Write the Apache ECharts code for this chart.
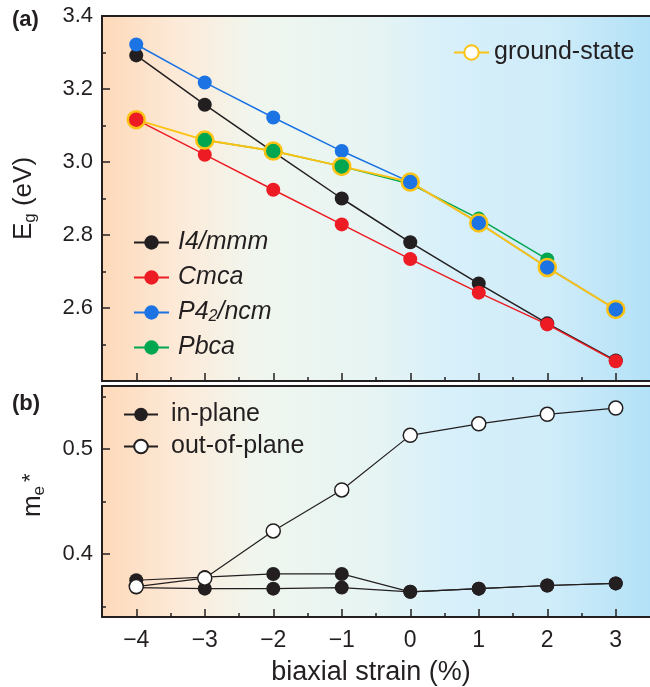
<!DOCTYPE html>
<html><head><meta charset="utf-8">
<script src="https://cdn.jsdelivr.net/npm/echarts@6/dist/echarts.min.js"></script>
<style>html,body{margin:0;padding:0;background:#fff}#c{width:650px;height:687px}</style>
</head><body><div id="c"></div>
<script>
// ---- data ----
const strain = [-4, -3, -2, -1, 0, 1, 2, 3];
const xTicks = [-4, -3, -2, -1, 0, 1, 2, 3];
const xMinorTicks = [-3.5, -2.5, -1.5, -0.5, 0.5, 1.5, 2.5];
const egI4mmm  = [3.292, 3.157, 3.028, 2.900, 2.780, 2.667, 2.558, 2.456];
const egCmca   = [3.116, 3.020, 2.924, 2.829, 2.734, 2.642, 2.555, 2.454];
const egP42ncm = [3.322, 3.218, 3.122, 3.030, 2.945, 2.833, 2.711, 2.596];
const egPbca   = [null, 3.060, 3.030, 2.988, 2.940, 2.845, 2.733, null];
const groundPhase = ['Cmca', 'Pbca', 'Pbca', 'Pbca', 'P42/ncm', 'P42/ncm', 'P42/ncm', 'P42/ncm'];
const meInPlaneA   = [0.375, 0.378, 0.381, 0.381, 0.364, 0.367, 0.370, 0.372];
const meInPlaneB   = [0.368, 0.367, 0.367, 0.368, 0.364, 0.367, 0.370, 0.372];
const meOutOfPlane = [0.369, 0.377, 0.422, 0.461, 0.513, 0.524, 0.533, 0.539];
const meTicks = [0.4, 0.5];
const meMinorTicks = [0.35, 0.45, 0.55];

// ---- style ----
const FONT = 'Liberation Sans, Arial, Helvetica, sans-serif';
const INK = '#231f20';
const YELLOW = '#fcc314';
const colors = {'I4/mmm': '#231f20', 'Cmca': '#ed1c24', 'P42/ncm': '#1b73e4', 'Pbca': '#00a650'};
const egByPhase = {'I4/mmm': egI4mmm, 'Cmca': egCmca, 'P42/ncm': egP42ncm, 'Pbca': egPbca};

function pairs(arr) { return strain.map((s, i) => arr[i] == null ? null : [s, arr[i]]).filter(d => d); }
function bg() {
  return new echarts.graphic.LinearGradient(0, 0, 1, 0, [
    {offset: 0, color: '#fdd9b9'},
    {offset: 0.15, color: '#fcebda'},
    {offset: 0.28, color: '#f0f6ee'},
    {offset: 0.5, color: '#e6f4f3'},
    {offset: 0.62, color: '#d8f0fa'},
    {offset: 0.82, color: '#cfecf9'},
    {offset: 1, color: '#b3e1f7'}
  ]);
}
const xFmt = v => v < 0 ? '\u2212' + Math.abs(v) : String(v);

function xMain(g, withLabels) {
  const ax = {
    type: 'value', gridIndex: g, position: 'bottom', min: -4.5, max: 3.5,
    axisLine: {onZero: false, lineStyle: {color: INK, width: 2}},
    axisTick: {inside: true, length: 8, customValues: xTicks, lineStyle: {color: INK, width: 1.5}},
    axisLabel: {show: withLabels, customValues: xTicks, formatter: xFmt, fontSize: 23, color: INK, fontFamily: FONT, margin: 12},
    splitLine: {show: false}
  };
  if (withLabels) {
    ax.name = 'biaxial strain (%)';
    ax.nameLocation = 'middle';
    ax.nameGap = 42;
    ax.nameTextStyle = {fontSize: 27, color: INK, fontFamily: FONT, padding: [0, 10, 0, 0]};
  }
  return ax;
}
function xMinor(g) {
  return {
    type: 'value', gridIndex: g, position: 'bottom', min: -4.5, max: 3.5,
    axisLine: {show: false, onZero: false},
    axisTick: {inside: true, length: 4, customValues: xMinorTicks, lineStyle: {color: INK, width: 1.5}},
    axisLabel: {show: false}, splitLine: {show: false}
  };
}
function xTop(g) {
  return {
    type: 'value', gridIndex: g, position: 'top', min: -4.5, max: 3.5,
    axisLine: {onZero: false, lineStyle: {color: INK, width: 2}},
    axisTick: {show: false}, axisLabel: {show: false}, splitLine: {show: false}
  };
}

const phaseNames = ['I4/mmm', 'Cmca', 'Pbca', 'P42/ncm'];
const series = phaseNames.map(n => ({
  type: 'line', name: n, xAxisIndex: 0, yAxisIndex: 0, data: pairs(egByPhase[n]),
  symbol: 'circle', symbolSize: 14, itemStyle: {color: colors[n]},
  lineStyle: {color: colors[n], width: 1.5}, z: 3
}));
series.push({
  type: 'line', name: 'ground-state', xAxisIndex: 0, yAxisIndex: 0,
  data: strain.map((s, i) => ({value: [s, egByPhase[groundPhase[i]][i]], itemStyle: {color: colors[groundPhase[i]]}})),
  symbol: 'circle', symbolSize: 17,
  itemStyle: {color: '#ffffff', borderColor: YELLOW, borderWidth: 2.5},
  lineStyle: {color: YELLOW, width: 2}, z: 4
});
[[meInPlaneA, 'in-plane'], [meInPlaneB, 'in-plane']].forEach(([arr, n]) => series.push({
  type: 'line', name: n, xAxisIndex: 3, yAxisIndex: 1, data: pairs(arr),
  symbol: 'circle', symbolSize: 14, itemStyle: {color: INK},
  lineStyle: {color: INK, width: 1.2}, z: 3
}));
series.push({
  type: 'line', name: 'out-of-plane', xAxisIndex: 3, yAxisIndex: 1, data: pairs(meOutOfPlane),
  symbol: 'circle', symbolSize: 14, itemStyle: {color: '#ffffff', borderColor: INK, borderWidth: 1.5},
  lineStyle: {color: INK, width: 1.2}, z: 4
});

const legText = {fontSize: 25, color: INK, fontFamily: FONT, lineHeight: 25};
const option = {
  animation: false,
  grid: [
    {left: 102, right: 0, top: 16, height: 365, show: true, backgroundColor: bg(), borderWidth: 0},
    {left: 102, right: 0, top: 386, height: 232, show: true, backgroundColor: bg(), borderWidth: 0}
  ],
  xAxis: [xMain(0, false), xMinor(0), xTop(0), xMain(1, true), xMinor(1), xTop(1)],
  yAxis: [
    {
      type: 'value', gridIndex: 0, position: 'left', min: 2.4, max: 3.4, interval: 0.2,
      axisLine: {onZero: false, lineStyle: {color: INK, width: 2}},
      axisTick: {inside: true, length: 8, lineStyle: {color: INK, width: 1.5}},
      minorTick: {show: true, splitNumber: 2, length: 4, lineStyle: {color: INK, width: 1.5}},
      axisLabel: {formatter: v => v.toFixed(1), showMinLabel: false, fontSize: 22, color: INK, fontFamily: FONT, margin: 9},
      splitLine: {show: false}, minorSplitLine: {show: false},
      name: 'E{sub|g} (eV)', nameLocation: 'middle', nameRotate: 90, nameGap: 63,
      nameTextStyle: {fontSize: 26, color: INK, fontFamily: FONT, lineHeight: 30,
        rich: {sub: {fontSize: 17, fontFamily: FONT, color: INK, verticalAlign: 'bottom', lineHeight: 17}}}
    },
    {
      type: 'value', gridIndex: 1, position: 'left', min: 0.34, max: 0.56,
      axisLine: {onZero: false, lineStyle: {color: INK, width: 2}},
      axisTick: {inside: true, length: 8, customValues: meTicks, lineStyle: {color: INK, width: 1.5}},
      axisLabel: {customValues: meTicks, formatter: v => v.toFixed(1), fontSize: 22, color: INK, fontFamily: FONT, margin: 9},
      splitLine: {show: false},
      name: 'm{sub|e}', nameLocation: 'middle', nameRotate: 90, nameGap: 54,
      nameTextStyle: {fontSize: 26, color: INK, fontFamily: FONT, lineHeight: 30,
        rich: {sub: {fontSize: 17, fontFamily: FONT, color: INK, verticalAlign: 'bottom', lineHeight: 17}}}
    },
    {
      type: 'value', gridIndex: 1, position: 'left', min: 0.34, max: 0.56,
      axisLine: {show: false, onZero: false},
      axisTick: {inside: true, length: 4, customValues: meMinorTicks, lineStyle: {color: INK, width: 1.5}},
      axisLabel: {show: false}, splitLine: {show: false}
    }
  ],
  legend: [
    {
      data: ['I4/mmm', 'Cmca', 'P42/ncm', 'Pbca'], orient: 'vertical', left: 133, top: 230, padding: 0,
      itemWidth: 35, itemHeight: 18, itemGap: 10, selectedMode: false,
      formatter: n => n === 'P42/ncm' ? 'P4{sub|2}/ncm' : n,
      textStyle: Object.assign({}, legText, {fontStyle: 'italic', padding: [0, 0, 0, 4],
        rich: {sub: {fontSize: 16, fontStyle: 'italic', fontFamily: FONT, color: INK, verticalAlign: 'bottom', lineHeight: 16}}})
    },
    {
      data: ['ground-state'], left: 453, top: 40, padding: 0, itemWidth: 35, itemHeight: 18, selectedMode: false,
      textStyle: legText
    },
    {
      data: ['in-plane', 'out-of-plane'], orient: 'vertical', left: 123, top: 402, padding: 0,
      itemWidth: 34, itemHeight: 17, itemGap: 7, selectedMode: false,
      textStyle: Object.assign({}, legText, {padding: [0, 0, 0, 8]})
    }
  ],
  graphic: [
    {type: 'text', left: 12, top: 9, style: {text: '(a)', font: 'bold 22px Liberation Sans, Arial, sans-serif', fill: INK}},
    {type: 'text', left: 12, top: 393, style: {text: '(b)', font: 'bold 22px Liberation Sans, Arial, sans-serif', fill: INK}},
    {type: 'text', x: 20, y: 482, rotation: Math.PI / 2, style: {text: '*', font: '22px Liberation Sans, Arial, sans-serif', fill: INK}}
  ],
  series: series
};
const chart = echarts.init(document.getElementById('c'), null, {renderer: 'canvas'});
chart.setOption(option);
</script></body></html>
